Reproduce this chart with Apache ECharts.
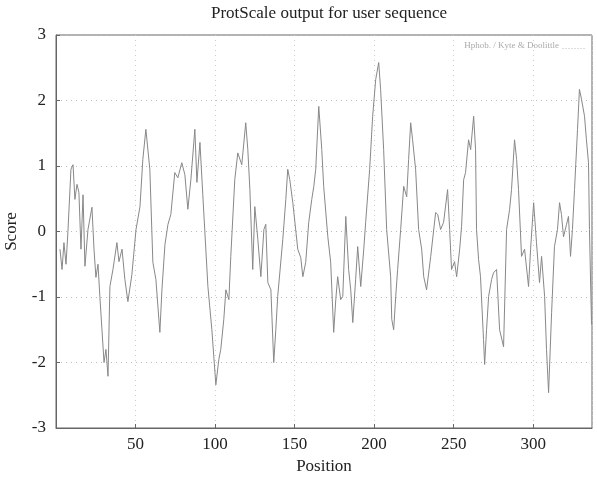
<!DOCTYPE html>
<html>
<head>
<meta charset="utf-8">
<script src="https://cdn.jsdelivr.net/npm/echarts@6/dist/echarts.min.js"></script>
<style>html,body{margin:0;padding:0;background:#fff}#c{width:597px;height:482px}</style>
</head>
<body>
<div id="c"></div>
<script>
const positions = [2.5,3.8,5.0,6.3,7.5,9.4,10.7,11.9,13.2,14.4,15.7,17.0,18.2,20.1,22.6,23.9,25.1,26.4,27.6,28.9,30.2,31.4,32.7,33.9,35.8,38.3,39.6,41.5,43.3,45.2,47.7,50.3,52.8,54.6,56.5,59.0,60.9,62.8,65.3,66.6,68.5,70.4,72.2,74.7,76.6,79.1,81.0,82.9,84.8,87.3,88.6,90.5,92.3,95.5,98.0,100.5,102.4,103.6,105.5,106.8,108.7,109.9,112.4,114.3,116.8,119.3,120.6,121.9,123.7,125.0,126.9,128.8,130.7,131.9,133.2,135.1,136.9,138.2,139.4,142.6,144.5,145.7,147.0,148.9,152.0,153.9,155.2,157.0,158.9,160.8,162.1,163.3,165.2,167.1,168.3,170.9,172.7,174.6,175.9,177.1,179.0,180.3,182.2,184.0,185.3,186.6,188.4,189.7,191.6,193.5,194.7,197.2,199.1,201.0,202.9,204.1,206.0,207.9,210.4,211.1,212.3,213.6,214.8,216.7,218.6,220.5,221.7,223.0,224.2,226.1,228.0,229.9,231.2,233.0,235.6,238.7,240.0,241.8,243.7,246.2,247.5,248.7,250.6,251.9,253.8,255.0,256.3,257.5,259.4,260.7,262.6,263.8,264.4,265.7,266.9,268.8,269.5,270.7,272.0,273.9,275.1,277.0,278.9,281.4,283.3,285.2,286.4,288.3,289.6,290.8,292.7,294.6,297.1,298.4,300.3,302.1,304.0,305.3,307.2,308.4,309.7,311.6,313.4,315.3,316.6,317.8,319.1,321.0,322.2,323.5,324.7,326.0,327.9,329.1,330.4,332.3,333.5,334.8,335.4,336.7];
const scores = [-0.27,-0.58,-0.17,-0.5,0.0,0.95,1.02,0.49,0.72,0.6,-0.27,0.56,-0.53,0.03,0.37,-0.27,-0.7,-0.5,-1.0,-1.5,-2.0,-1.8,-2.21,-0.84,-0.58,-0.17,-0.46,-0.27,-0.73,-1.07,-0.66,0.03,0.38,1.1,1.56,0.95,-0.47,-0.73,-1.54,-0.89,-0.2,0.11,0.26,0.9,0.82,1.05,0.87,0.34,0.79,1.56,0.75,1.36,0.56,-0.84,-1.5,-2.34,-1.95,-1.8,-1.34,-0.89,-1.04,-0.38,0.79,1.2,1.02,1.66,1.25,0.64,-0.58,0.38,-0.12,-0.69,0.03,0.11,-0.78,-0.89,-2.0,-1.5,-0.99,-0.12,0.49,0.95,0.79,0.44,-0.27,-0.4,-0.69,-0.47,0.14,0.49,0.69,0.95,1.91,1.25,0.69,-0.08,-0.47,-1.54,-1.04,-0.69,-1.04,-0.99,0.23,-0.58,-0.89,-1.39,-0.73,-0.23,-0.84,-0.27,0.14,0.95,1.76,2.32,2.58,2.17,1.25,0.03,-0.69,-1.34,-1.5,-0.99,-0.58,0.03,0.69,0.53,1.1,1.66,1.4,0.95,0.03,-0.27,-0.69,-0.89,-0.38,0.29,0.26,0.03,0.14,0.64,0.03,-0.58,-0.46,-0.69,-0.27,0.08,0.79,0.9,1.4,1.25,1.76,1.25,0.03,-0.43,-0.69,-1.65,-2.03,-1.5,-0.99,-0.73,-0.63,-0.58,-1.5,-1.76,0.03,0.34,0.64,1.4,1.1,0.64,-0.38,-0.27,-0.84,-0.27,0.44,-0.17,-0.78,-0.38,-0.99,-1.8,-2.46,-1.24,-0.23,0.03,0.44,0.26,-0.08,0.11,0.23,-0.38,0.03,0.64,1.56,2.17,2.02,1.76,1.4,1.05,0.03,-1.42];
const seriesName = 'Hphob. / Kyte & Doolittle';
const titleText = 'ProtScale output for user sequence';
const xName = 'Position';
const yName = 'Score';

const data = positions.map((p, i) => [p, scores[i]]);
const chart = echarts.init(document.getElementById('c'), null, {renderer: 'canvas'});
const serif = '"Liberation Serif", "DejaVu Serif", serif';
chart.setOption({
  animation: false,
  backgroundColor: '#fff',
  title: {
    text: titleText, left: 324, top: 0, textAlign: 'center',
    textStyle: {fontFamily: serif, fontSize: 17, fontWeight: 'normal', color: '#222'}
  },
  graphic: [
    {type: 'text', right: 38, top: 41, style: {text: seriesName, fontFamily: serif, fontSize: 9, fill: '#aaa'}},
    {type: 'line', right: 8, top: 46, shape: {x1: 0, y1: 0, x2: 24, y2: 0}, style: {stroke: '#bbb', lineWidth: 1, lineDash: [1, 2]}}
  ],
  grid: {left: 56, right: 5, top: 35, bottom: 54, show: true, borderColor: '#666', borderWidth: 1,
    containLabel: false, outerBoundsMode: 'none'},
  xAxis: {
    type: 'value', min: 0, max: 337, interval: 50,
    name: xName, nameLocation: 'middle', nameGap: 30,
    nameTextStyle: {fontFamily: serif, fontSize: 17, color: '#222'},
    axisLine: {show: true, onZero: false, lineStyle: {color: '#666'}},
    axisTick: {show: true, inside: true, length: 4, lineStyle: {color: '#666'}},
    axisLabel: {fontFamily: serif, fontSize: 17, color: '#222', margin: 8, showMinLabel: false, showMaxLabel: false,
      formatter: v => (v === 0 ? '' : String(v))},
    splitLine: {show: true, lineStyle: {color: '#ccc', type: [1, 4]}}
  },
  yAxis: {
    type: 'value', min: -3, max: 3, interval: 1,
    name: yName, nameLocation: 'middle', nameGap: 36, nameRotate: 90,
    nameTextStyle: {fontFamily: serif, fontSize: 17, color: '#222'},
    axisLine: {show: true, onZero: false, lineStyle: {color: '#666'}},
    axisTick: {show: true, inside: true, length: 4, lineStyle: {color: '#666'}},
    axisLabel: {fontFamily: serif, fontSize: 17, color: '#222', margin: 10},
    splitLine: {show: true, lineStyle: {color: '#bbb', type: [1, 4]}}
  },
  series: [{
    name: seriesName, type: 'line', data: data, showSymbol: false,
    lineStyle: {color: '#888', width: 1}
  }]
});
</script>
</body>
</html>
